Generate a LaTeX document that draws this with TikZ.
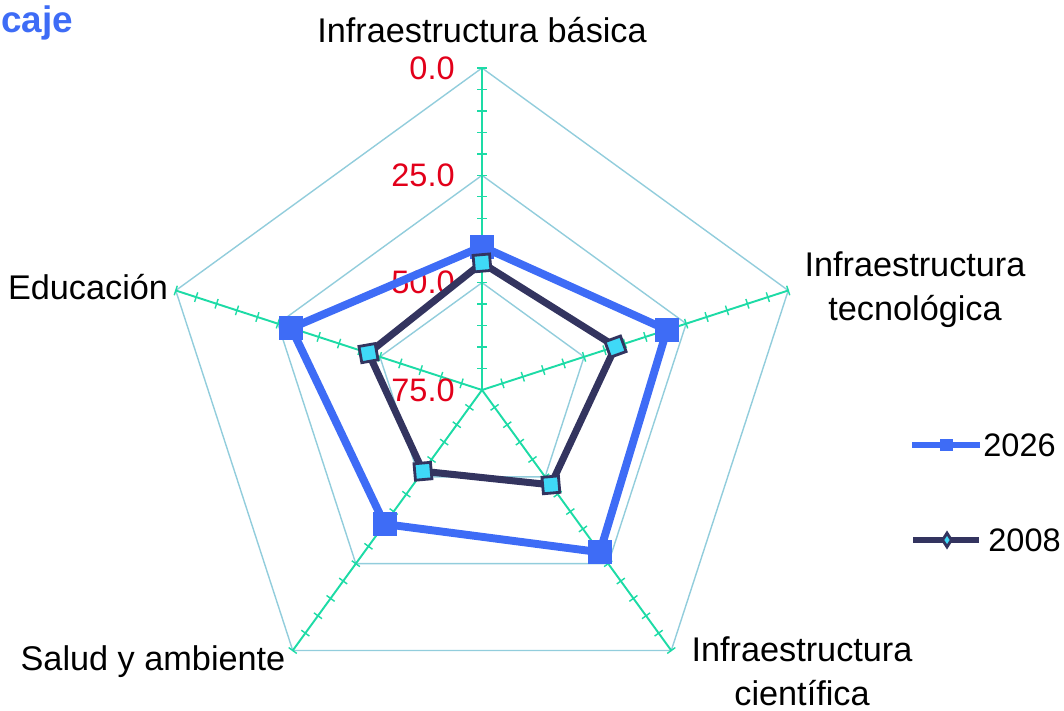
\documentclass[tikz,border=0pt]{standalone}
\usepackage{fontspec}
\setmainfont{Liberation Sans}
\usetikzlibrary{shapes.geometric}
\definecolor{gridblue}{HTML}{92CDDC}
\definecolor{axisgreen}{HTML}{1DDBA6}
\definecolor{scalered}{HTML}{E2001A}
\definecolor{newblue}{HTML}{3E6CF6}
\definecolor{oldnavy}{HTML}{33345F}
\definecolor{oldcyan}{HTML}{3FD9F7}

\begin{document}
\begin{tikzpicture}[
    x=0.02cm, y=0.02cm,
    grid/.style={draw=gridblue, line width=0.8pt},
    axis/.style={draw=axisgreen, line width=1.1pt},
    tickmark/.style={draw=axisgreen, line width=0.8pt},
    scale label/.style={text=scalered, anchor=east, inner sep=0pt,
        font=\fontsize{18.5}{22}\selectfont},
    axis label/.style={align=center, inner sep=0pt,
        font=\fontsize{19.5}{25}\selectfont},
    line2026/.style={draw=newblue, line width=4.5pt, line join=round},
    line2008/.style={draw=oldnavy, line width=4pt, line join=round},
    mark2026/.style={rectangle, fill=newblue, minimum size=0.48cm, inner sep=0pt},
    mark2008/.style={rectangle, fill=oldcyan, draw=oldnavy, line width=1.6pt,
        minimum size=0.33cm, inner sep=0pt},
    legend text/.style={anchor=west, inner sep=0pt,
        font=\fontsize{18.5}{22}\selectfont}
]
    \useasboundingbox (0,0) rectangle (1064,710);

    \node[anchor=base west, inner sep=0pt, text=newblue,
        font=\bfseries\fontsize{21}{26}\selectfont] (title) at (1,677) {caje};

    \begin{scope}[shift={(482,320)}]
        \coordinate (c) at (0,0);
        \foreach \name/\a in {ib/90, it/18, ic/-54, sa/-126, ed/162}
            \coordinate (\name) at (\a:322);
        \foreach \r in {322, 214.67, 107.33}
            \draw[grid] (90:\r) -- (18:\r) -- (-54:\r) -- (-126:\r) -- (162:\r) -- cycle;
        \foreach \name in {ib, it, ic, sa, ed}
            \draw[axis] (c) -- (\name);
        \foreach \a in {90, 18, -54, -126, 162}
            \foreach \k in {1,...,15}
                \draw[tickmark] ([shift={({\a+90}:5)}]\a:{\k*21.467})
                    -- ([shift={({\a-90}:5)}]\a:{\k*21.467});

        \foreach \v/\r [count=\i] in {0.0/322, 25.0/214.67, 50.0/107.33, 75.0/0}
            \node[scale label] (scale\i) at (-27,\r) {\v};

        \foreach \name/\a/\v in {n1/90/41.6, n2/18/29.7, n3/-54/28.3, n4/-126/36.4, n5/162/28.3}
            \coordinate (\name) at (\a:{(75-\v)*322/75});
        \draw[line2026] (n1) -- (n2) -- (n3) -- (n4) -- (n5) -- cycle;
        \foreach \name in {n1, n2, n3, n4, n5}
            \node[mark2026] (\name m) at (\name) {};

        \foreach \name/\a/\v in {o1/90/45.4, o2/18/42.3, o3/-54/47.7, o4/-126/51.6, o5/162/47.2}
            \coordinate (\name) at (\a:{(75-\v)*322/75});
        \draw[line2008] (o1) -- (o2) -- (o3) -- (o4) -- (o5) -- cycle;
        \foreach \name/\t in {o1/5, o2/20, o3/5, o4/5, o5/10}
            \node[mark2008, rotate=\t] (\name m) at (\name) {};
    \end{scope}

    \node[axis label] (ibl) at (482,680) {Infraestructura básica};
    \node[axis label] (itl) at (915,420) {Infraestructura\\tecnológica};
    \node[axis label] (icl) at (802,39) {Infraestructura\\científica};
    \node[axis label] (sal) at (153,48) {Salud y ambiente};
    \node[axis label] (edl) at (88,423) {Educación};

    \coordinate (l1a) at (912,265);
    \coordinate (l1b) at (980,265);
    \draw[draw=newblue, line width=3.4pt] (l1a) -- (l1b);
    \node[rectangle, fill=newblue, minimum size=0.26cm, inner sep=0pt] (l1m) at (946,265) {};
    \node[legend text] (l1t) at (983,265) {2026};

    \coordinate (l2a) at (913,170);
    \coordinate (l2b) at (979,170);
    \draw[draw=oldnavy, line width=3.4pt] (l2a) -- (l2b);
    \node[diamond, fill=oldcyan, draw=oldnavy, line width=1.6pt, inner sep=0pt,
        minimum width=0.2cm, minimum height=0.3cm] (l2m) at (947,170) {};
    \node[legend text] (l2t) at (988,170) {2008};
\end{tikzpicture}
\end{document}
